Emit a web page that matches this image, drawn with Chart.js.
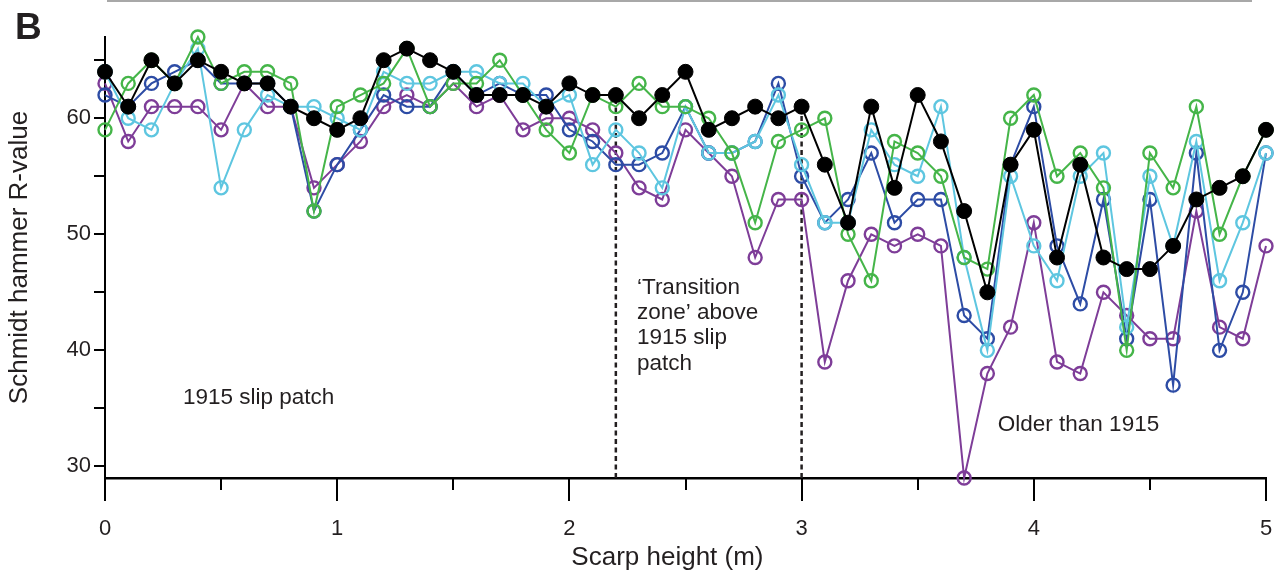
<!DOCTYPE html>
<html><head><meta charset="utf-8">
<script src="https://cdn.jsdelivr.net/npm/chart.js@4/dist/chart.umd.min.js"></script>
<style>html,body{margin:0;padding:0;background:#fff}#wrap{width:1279px;height:582px;position:relative}</style>
</head><body><div id="wrap"><canvas id="c" width="1279" height="582"></canvas></div>
<script>
// Scarp height (m)
const heights = [0,0.1,0.2,0.3,0.4,0.5,0.6,0.7,0.8,0.9,1,1.1,1.2,1.3,1.4,1.5,1.6,1.7,1.8,1.9,2,2.1,2.2,2.3,2.4,2.5,2.6,2.7,2.8,2.9,3,3.1,3.2,3.3,3.4,3.5,3.6,3.7,3.8,3.9,4,4.1,4.2,4.3,4.4,4.5,4.6,4.7,4.8,4.9,5];
// Schmidt hammer R-values per profile
const blackSeries  = [64,61,65,63,65,64,63,63,61,60,59,60,65,66,65,64,62,62,62,61,63,62,62,60,62,64,59,60,61,60,61,56,51,61,54,62,58,52,45,56,59,48,56,48,47,47,49,53,54,55,59];
const greenSeries  = [59,63,65,63,67,63,64,64,63,52,61,62,63,66,61,63,63,65,62,59,57,62,61,63,61,61,60,57,51,58,59,60,50,46,58,57,55,48,47,60,62,55,57,54,40,57,54,61,50,55,59];
const cyanSeries   = [64,60,59,63,66,54,59,62,61,61,60,59,64,63,63,64,64,63,63,61,62,56,59,57,54,61,57,57,58,62,56,51,51,59,56,55,61,48,40,55,49,46,55,57,42,55,49,58,46,51,57];
const blueSeries   = [62,61,63,64,65,63,63,63,61,52,56,59,62,61,61,64,62,63,62,62,59,58,56,56,57,61,57,57,58,63,55,51,53,57,51,53,53,43,41,56,61,49,44,53,41,53,37,57,40,45,57];
const purpleSeries = [63,58,61,61,61,59,63,61,61,54,56,58,61,62,61,63,61,62,59,60,60,59,57,54,53,59,57,55,48,53,53,39,46,50,49,50,49,29,38,42,51,39,38,45,43,41,41,52,42,41,49];
// zone boundaries (m)
const boundaries = [2.2, 3.0];
// tick labels
const xTickLabels = ['0','1','2','3','4','5'];
const xMinorTicks = [0.5,1.5,2.5,3.5,4.5];
const yTickLabels = ['30','40','50','60'];
const yMinorTicks = [35,45,55,65];

const FONT = "'Liberation Sans', Arial, Helvetica, sans-serif";
const TXT = '#231f20';

function pts(arr){ return heights.map((h,i)=>({x:h,y:arr[i]})); }
function series(label, arr, color, filled){
  return {label, data:pts(arr), borderColor:color, borderWidth:2, tension:0,
    pointRadius: filled?7.5:6.5, pointBorderWidth: filled?1:2.4,
    pointBackgroundColor: filled?color:'rgba(0,0,0,0)', pointBorderColor:color,
    pointHoverRadius: filled?7.5:6.5, clip:false};
}
const dividerSets = boundaries.map(b=>{
  const idx = heights.findIndex(h=>Math.abs(h-b)<1e-9);
  return {label:'div'+b, data:[{x:b,y:29},{x:b,y:blackSeries[idx]}], borderColor:'#231f20',
    borderWidth:2.5, borderDash:[5,3.5], pointRadius:0, clip:false};
});

const xMajor = xTickLabels.map(Number);
const yMajor = yTickLabels.map(Number);

const extras = {
  id:'extras',
  beforeDatasetsDraw(chart){
    const ctx = chart.ctx, xs = chart.scales.x, b = chart.chartArea.bottom;
    ctx.save(); ctx.strokeStyle = '#000'; ctx.lineWidth = 2;
    xMajor.forEach(v=>{ const p = Math.round(xs.getPixelForValue(v)); ctx.beginPath(); ctx.moveTo(p,b); ctx.lineTo(p,b+23); ctx.stroke(); });
    xMinorTicks.forEach(v=>{ const p = Math.round(xs.getPixelForValue(v)); ctx.beginPath(); ctx.moveTo(p,b); ctx.lineTo(p,b+12); ctx.stroke(); });
    ctx.restore();
  },
  afterDraw(chart){
    const ctx = chart.ctx, xs = chart.scales.x, ys = chart.scales.y;
    ctx.save();
    ctx.fillStyle = TXT; ctx.font = '22.5px ' + FONT; ctx.textBaseline = 'middle'; ctx.textAlign = 'left';
    ctx.fillText('1915 slip patch', xs.getPixelForValue(0.336), ys.getPixelForValue(35.95));
    const tz = ['\u2018Transition','zone\u2019 above','1915 slip','patch'];
    tz.forEach((t,i)=>ctx.fillText(t, xs.getPixelForValue(2.291), ys.getPixelForValue(45.4) + i*25.3));
    ctx.fillText('Older than 1915', xs.getPixelForValue(3.845), ys.getPixelForValue(33.55));
    // panel letter and top rule
    ctx.font = 'bold 37px ' + FONT; ctx.textBaseline = 'alphabetic';
    ctx.fillText('B', 15, 38.5);
    ctx.strokeStyle = '#a8a8a8'; ctx.lineWidth = 2;
    ctx.beginPath(); ctx.moveTo(107,1); ctx.lineTo(1252,1); ctx.stroke();
    ctx.restore();
  }
};

new Chart(document.getElementById('c'), {
  type:'line',
  plugins:[extras],
  data:{ datasets:[
    series('black', blackSeries, '#000000', true),
    series('green', greenSeries, '#45b549', false),
    series('cyan', cyanSeries, '#5ec6e0', false),
    series('blue', blueSeries, '#2d4ca5', false),
    series('purple', purpleSeries, '#7e3d98', false),
    ...dividerSets
  ]},
  options:{
    responsive:false, animation:false, devicePixelRatio:1,
    events:[],
    layout:{padding:{left:0, top:37, right:13, bottom:0}},
    plugins:{legend:{display:false}, tooltip:{enabled:false}},
    scales:{
      x:{ type:'linear', position:'bottom', min:0, max:5,
        afterBuildTicks:s=>{ s.ticks = xMajor.map(v=>({value:v})); },
        afterFit:s=>{ s.height = 104; s.paddingLeft = 0; s.paddingRight = 0; },
        ticks:{ font:{family:FONT, size:22}, color:TXT, padding:38, maxRotation:0,
          callback:(v)=>xTickLabels[xMajor.indexOf(v)] },
        grid:{ display:true, drawOnChartArea:false, drawTicks:false },
        border:{ display:true, color:'#000', width:2.5 },
        title:{ display:true, text:'Scarp height (m)\u00a0\u00a0\u00a0\u00a0\u00a0', font:{family:FONT, size:26}, color:TXT, padding:{top:0,bottom:9} }
      },
      y:{ type:'linear', position:'left', min:29, max:67,
        afterBuildTicks:s=>{ s.ticks = [...yMajor, ...yMinorTicks].sort((a,b)=>a-b).map(v=>({value:v})); },
        afterFit:s=>{ s.width = 105; s.paddingTop = 0; s.paddingBottom = 0; },
        ticks:{ font:{family:FONT, size:22}, color:TXT, padding:3,
          callback:(v)=>{ const i = yMajor.indexOf(v); return i>=0 ? yTickLabels[i] : ''; } },
        grid:{ display:true, drawOnChartArea:false, drawTicks:true, tickLength:11, color:'#000', lineWidth:2 },
        border:{ display:true, color:'#000', width:2 },
        title:{ display:true, text:'Schmidt hammer R-value', font:{family:FONT, size:26}, color:TXT, padding:{top:4,bottom:0} }
      }
    }
  }
});
</script></body></html>
